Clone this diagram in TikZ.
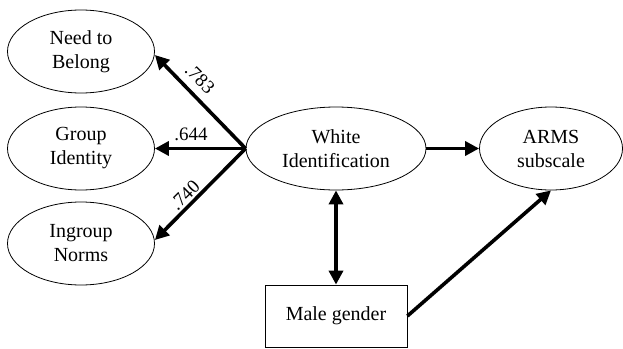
\documentclass[tikz,border=0pt]{standalone}
\usepackage{fontspec}
\setmainfont{Liberation Serif}
\usetikzlibrary{arrows.meta,shapes.geometric}
\begin{document}
\begin{tikzpicture}[x=1pt,y=-1pt,
  latent/.style={draw,ellipse,line width=0.8pt,minimum width=#1,minimum height=83pt,inner sep=0pt,align=center,font=\fontsize{20}{24}\selectfont},
  latent/.default=147pt,
  obs/.style={draw,rectangle,line width=0.8pt,minimum width=142pt,minimum height=62pt,inner sep=0pt,font=\fontsize{20}{24}\selectfont},
  path/.style={line width=3.6pt,-{Triangle[length=14pt,width=14pt]}},
  dpath/.style={line width=3.6pt,{Triangle[length=14pt,width=14pt]}-{Triangle[length=14pt,width=14pt]}},
  lab/.style={font=\fontsize{19}{22}\selectfont,inner sep=0pt}]
\useasboundingbox (0,0) rectangle (623,348);
\node[latent] (ntb) at (81,51.5) {Need to\\Belong};
\node[latent] (gi) at (81,148.5) {Group\\Identity};
\node[latent] (in) at (81,243.5) {Ingroup\\Norms};
\node[latent=180pt] (wi) at (336,148.5) {White\\Identification};
\node[latent=143pt] (arms) at (551,148.5) {ARMS\\subscale};
\node[obs] (male) at (336,316) {Male gender};
\coordinate (src) at (wi.west);
\draw[path] (src) -- (ntb.east |- 0,55) coordinate (e1);
\draw[path] (src) -- (gi.east);
\draw[path] (src) -- (in.east |- 0,240) coordinate (e3);
\draw[path] (wi.east) -- (arms.west);
\draw[dpath] (wi.south) -- (male.north);
\draw[path] (male.east) -- (arms.south);
\node[lab,rotate=-45] at (200,79) {.783};
\node[lab] at (191,134) {.644};
\node[lab,rotate=45] at (185,195) {.740};
\end{tikzpicture}
\end{document}
